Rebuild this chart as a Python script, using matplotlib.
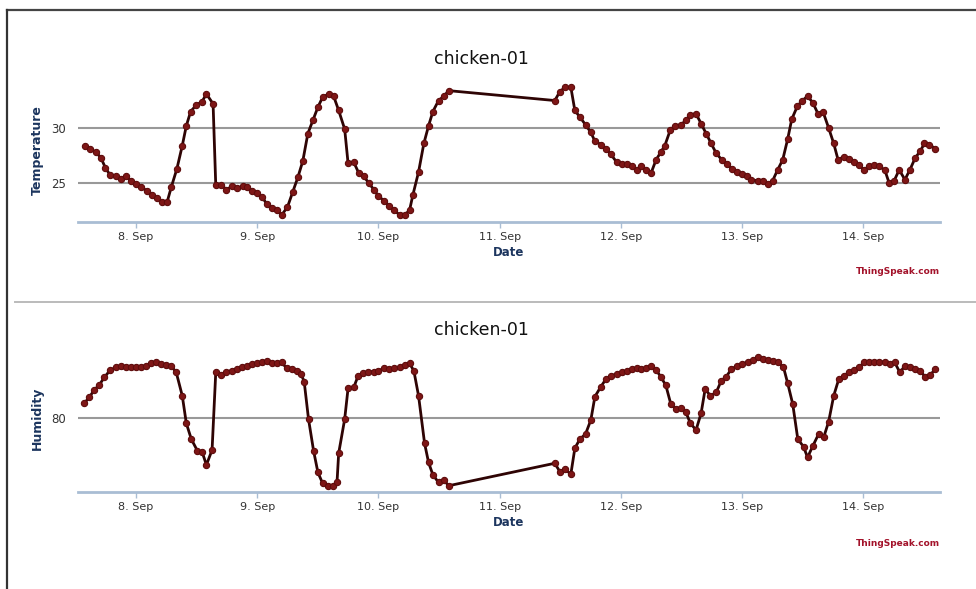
import matplotlib
matplotlib.use('Agg')
import matplotlib.pyplot as plt
from matplotlib.lines import Line2D

# hours counted from 8 Sep 00:00
temp_hours = [-10.15, -9.08, -7.96, -6.96, -6.1, -5.11, -3.98, -2.98, -1.99, -0.99,
              0.0, 0.99, 2.19, 3.18, 4.18, 5.11, 6.17, 6.96, 8.09, 9.15,
              9.95, 10.81, 11.94, 13.06, 13.93, 15.25, 15.78, 16.91, 17.9, 19.03,
              20.03, 21.09, 22.02, 22.94, 23.87, 25.0, 25.86, 26.86, 27.85, 28.85,
              29.97, 31.03, 32.03, 33.02, 34.02, 35.01, 36.01, 36.94, 38.13, 39.12,
              40.12, 41.31, 41.98, 43.1, 44.1, 45.09, 46.09, 47.07, 48.0, 49.06,
              50.18, 51.17, 52.17, 53.16, 54.15, 54.81, 55.94, 56.99, 57.92, 58.78,
              59.9, 60.96, 61.89, 82.92, 83.91, 84.9, 86.1, 86.89, 87.88, 89.0,
              90.06, 90.86, 92.05, 93.04, 94.03, 95.16, 96.15, 97.14, 98.13, 99.12,
              99.98, 100.9, 101.98, 102.97, 103.9, 104.71, 105.77, 106.7, 107.9, 108.9,
              109.76, 110.89, 111.89, 112.89, 113.88, 114.88, 116.01, 117.07, 118.07, 119.07,
              120.0, 121.06, 121.86, 123.06, 124.06, 125.05, 126.05, 127.05, 128.05, 129.04,
              129.84, 130.97, 131.97, 132.97, 134.03, 135.03, 136.02, 137.15, 138.15, 139.02,
              140.15, 141.14, 142.14, 143.14, 144.14, 145.13, 146.13, 147.13, 148.26, 149.12,
              150.12, 151.12, 152.25, 153.24, 154.31, 155.31, 156.1, 157.1, 158.3]
temperature = [28.4, 28.1, 27.8, 27.3, 26.4, 25.7, 25.6, 25.4, 25.6, 25.2,
               24.9, 24.6, 24.3, 23.9, 23.6, 23.3, 23.3, 24.6, 26.3, 28.4,
               30.2, 31.5, 32.1, 32.4, 33.1, 32.2, 24.8, 24.8, 24.4, 24.7,
               24.5, 24.7, 24.6, 24.3, 24.1, 23.7, 23.1, 22.7, 22.5, 22.1,
               22.8, 24.2, 25.5, 27.0, 29.5, 30.7, 31.9, 32.8, 33.1, 32.9,
               31.6, 29.9, 26.8, 26.9, 25.9, 25.6, 25.0, 24.4, 23.8, 23.4,
               22.9, 22.5, 22.1, 22.1, 22.5, 23.9, 26.0, 28.6, 30.2, 31.5,
               32.5, 32.9, 33.4, 32.5, 33.3, 33.7, 33.7, 31.6, 31.0, 30.3,
               29.6, 28.8, 28.5, 28.1, 27.6, 26.9, 26.7, 26.7, 26.5, 26.2,
               26.5, 26.2, 25.9, 27.1, 27.8, 28.4, 29.8, 30.2, 30.3, 30.7,
               31.2, 31.3, 30.4, 29.5, 28.6, 27.7, 27.1, 26.7, 26.3, 26.0,
               25.8, 25.6, 25.3, 25.2, 25.2, 24.9, 25.2, 26.2, 27.1, 29.0,
               30.8, 32.0, 32.5, 32.9, 32.3, 31.3, 31.5, 30.0, 28.6, 27.1,
               27.4, 27.2, 26.9, 26.6, 26.2, 26.5, 26.6, 26.5, 26.2, 25.0,
               25.2, 26.2, 25.3, 26.2, 27.3, 27.9, 28.6, 28.5, 28.1]

hum_hours = [-10.28, -9.28, -8.29, -7.29, -6.3, -5.11, -3.98, -2.98, -1.99, -0.99,
             0.0, 0.99, 1.99, 2.98, 3.98, 4.97, 5.97, 6.96, 7.96, 9.15,
             9.95, 10.94, 12.14, 13.06, 13.93, 15.05, 15.78, 16.91, 17.9, 18.9,
             19.89, 20.89, 21.88, 22.88, 23.87, 24.87, 25.99, 26.86, 27.85, 28.85,
             29.84, 30.84, 31.83, 32.69, 33.29, 34.15, 35.15, 36.01, 36.94, 38.0,
             38.99, 39.79, 40.12, 41.31, 41.98, 43.1, 43.97, 44.89, 45.95, 47.07,
             48.0, 49.06, 50.18, 51.17, 52.17, 53.16, 54.15, 55.01, 55.94, 57.13,
             57.92, 58.78, 59.9, 60.96, 61.89, 82.92, 83.91, 84.9, 86.1, 86.89,
             87.88, 89.0, 90.06, 90.86, 92.05, 93.04, 94.03, 95.16, 96.15, 97.14,
             98.13, 99.12, 99.98, 100.9, 101.98, 102.97, 103.9, 104.91, 105.9, 106.9,
             107.9, 108.9, 109.76, 110.89, 111.89, 112.69, 113.75, 114.88, 115.88, 116.88,
             117.87, 119.07, 120.07, 121.2, 122.19, 123.06, 124.06, 125.05, 126.05, 127.05,
             128.18, 129.04, 130.04, 131.04, 132.17, 132.97, 134.03, 135.16, 136.16, 137.15,
             138.15, 139.15, 140.15, 141.14, 142.14, 143.14, 144.14, 145.13, 146.13, 147.13,
             148.26, 149.26, 150.25, 151.25, 152.25, 153.24, 154.31, 155.24, 156.24, 157.23,
             158.3]
humidity = [83.6, 85.0, 86.8, 88.0, 89.8, 91.6, 92.2, 92.6, 92.4, 92.4,
            92.2, 92.4, 92.6, 93.2, 93.4, 93.0, 92.8, 92.6, 91.0, 85.4,
            78.8, 75.0, 72.2, 72.0, 68.8, 72.4, 91.0, 90.4, 91.2, 91.4,
            91.8, 92.2, 92.6, 93.0, 93.2, 93.4, 93.8, 93.2, 93.2, 93.4,
            92.0, 91.8, 91.4, 90.6, 88.8, 79.8, 72.2, 67.0, 64.4, 63.8,
            63.8, 64.6, 71.6, 79.8, 87.2, 87.4, 90.2, 90.8, 91.2, 91.2,
            91.4, 92.0, 91.8, 92.0, 92.2, 92.8, 93.2, 91.4, 85.4, 74.0,
            69.4, 66.4, 64.6, 65.2, 63.8, 69.2, 67.2, 67.8, 66.6, 72.8,
            75.0, 76.2, 79.6, 85.2, 87.6, 89.4, 90.2, 90.6, 91.0, 91.4,
            91.8, 92.0, 91.8, 92.0, 92.6, 91.6, 90.0, 87.9, 83.4, 82.2,
            82.4, 81.4, 78.8, 77.2, 81.2, 87.0, 85.4, 86.2, 89.0, 90.0,
            91.8, 92.6, 93.0, 93.6, 94.0, 94.6, 94.2, 94.0, 93.8, 93.4,
            92.4, 88.4, 83.4, 75.0, 73.2, 70.6, 73.4, 76.2, 75.4, 79.2,
            85.4, 89.4, 90.2, 91.0, 91.6, 92.2, 93.4, 93.4, 93.4, 93.4,
            93.6, 93.0, 93.4, 91.0, 92.6, 92.2, 91.8, 91.4, 90.0, 90.4,
            91.8]

day_hours = [0, 24, 48, 72, 96, 120, 144]
day_labels = ['8. Sep', '9. Sep', '10. Sep', '11. Sep', '12. Sep', '13. Sep', '14. Sep']

W, H = 976, 589
fig = plt.figure(figsize=(W / 100, H / 100), dpi=100)
navy = '#1c355e'


def draw_panel(top, bottom, hours, values, ylabel, yticks, ylim, title_y, credit_y):
    ax = fig.add_axes([78 / W, 1 - bottom / H, (940 - 78) / W, (bottom - top) / H])
    ax.plot(hours, values, color='#2e0404', lw=2, marker='o', ms=4.5,
            mfc='#7e1616', mec='#5e0c0c', mew=0.8, zorder=3, clip_on=False)
    ax.set_xlim(-11.5, 159.2)
    ax.set_ylim(*ylim)
    ax.set_xticks(day_hours)
    ax.set_xticklabels(day_labels)
    ax.set_yticks(yticks)
    ax.grid(axis='y', color='#999999', lw=1.5)
    ax.set_axisbelow(True)
    for s in ['top', 'right', 'left']:
        ax.spines[s].set_visible(False)
    ax.spines['bottom'].set_color('#a9bdd4')
    ax.spines['bottom'].set_linewidth(2)
    ax.tick_params(axis='x', color='#a9bdd4', length=4, width=1, pad=3,
                   labelsize=8, labelcolor='#333333')
    ax.tick_params(axis='y', length=0, pad=9, labelsize=8.5, labelcolor='#333333')

    fig.text(481 / W, 1 - title_y / H, 'chicken-01', ha='center', va='center',
             fontsize=12.5, color='#111111')
    fig.text(509 / W, 1 - (bottom + 31) / H, 'Date', ha='center', va='center',
             fontsize=8.5, fontweight='bold', color=navy)
    fig.text(37 / W, 1 - (top + bottom) / 2 / H, ylabel, ha='center', va='center',
             rotation=90, fontsize=9, fontweight='bold', color=navy)
    fig.text(940 / W, 1 - credit_y / H, 'ThingSpeak.com', ha='right', va='center',
             fontsize=6.5, fontweight='semibold', color='#a3122a')
    return ax


draw_panel(78, 222, temp_hours, temperature, 'Temperature', [25, 30],
           (21.45, 34.55), 59, 272)
draw_panel(345, 492, hum_hours, humidity, 'Humidity', [80],
           (62.3, 97.6), 330, 543)

# screenshot frame and separator
fig.add_artist(Line2D([7 / W, 1], [1 - 10 / H, 1 - 10 / H], color='#444444', lw=1.6))
fig.add_artist(Line2D([7 / W, 7 / W], [0, 1 - 10 / H], color='#333333', lw=1.6))
fig.add_artist(Line2D([15 / W, 1], [1 - 302 / H, 1 - 302 / H], color='#bbbbbb', lw=1.4))

fig.savefig('out.png', dpi=100)
